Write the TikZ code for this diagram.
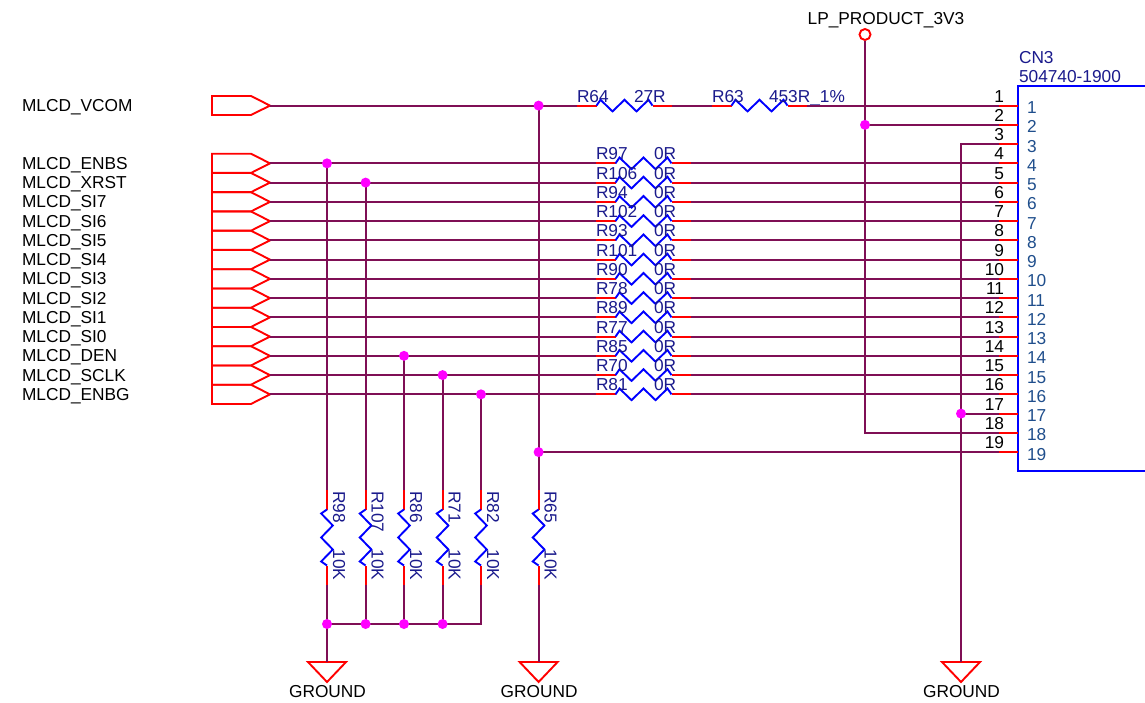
\documentclass[tikz,border=0pt]{standalone}
\usepackage{fontspec}
\setmainfont{Liberation Sans}
\definecolor{wirec}{HTML}{7F0F55}
\definecolor{refc}{HTML}{1A1A8C}
\definecolor{pinc}{HTML}{1F4E8C}
\definecolor{dotc}{HTML}{FF00FF}
\tikzset{
 wire/.style={draw=wirec,line width=2pt,line join=miter},
 stub/.style={draw=red,line width=2pt},
 zig/.style={draw=blue,line width=1.9pt,line join=miter},
 port/.style={draw=red,line width=1.9pt,line join=miter},
 jdot/.style={circle,fill=dotc,minimum size=10pt,inner sep=0pt,outer sep=0pt},
 txt/.style={font=\fontsize{17.3}{19}\selectfont,inner sep=0pt,outer sep=0pt},
 reft/.style={txt,text=refc},
}
% horizontal resistor: name, left x, y, ref, value, value x
\newcommand{\hres}[6]{%
 \coordinate (#1-a) at (#2,#3);
 \coordinate (#1-b) at (#2+95,#3);
 \draw[stub] (#1-a) -- ++(19.5,0);
 \draw[stub] (#1-b) -- ++(-19.5,0);
 \draw[zig] ($(#1-a)+(19.5,0)$) -- ++(4,-5.8) -- ++(12,11.6) -- ++(12,-11.6) -- ++(12,11.6) -- ++(12,-11.6) -- ($(#1-a)+(75.5,0)$);
 \node[reft,anchor=base west] (#1-r) at (#2,#3-3.5) {#4};
 \node[reft,anchor=base west] (#1-v) at (#6,#3-3.5) {#5};
}
% vertical resistor: name, x, ref, value
\newcommand{\vres}[4]{%
 \coordinate (#1-a) at (#2,490);
 \coordinate (#1-b) at (#2,585);
 \draw[stub] (#1-a) -- ++(0,19.5);
 \draw[stub] (#1-b) -- ++(0,-19.5);
 \draw[zig] (#2,509.5) -- ++(-5.8,4) -- ++(11.6,12) -- ++(-11.6,12) -- ++(11.6,12) -- ++(-11.6,12) -- (#2,565.5);
 \node[reft,rotate=-90,anchor=base west] (#1-r) at (#2+6,491) {#3};
 \node[reft,rotate=-90,anchor=base west] (#1-v) at (#2+6,549.5) {#4};
}
\newcommand{\gnd}[3]{% name, x, wire start
 \coordinate (#1) at (#2,662);
 \draw[port] (#2-19,662) -- (#2+19,662) -- (#2,682) -- cycle;
 \node[txt,anchor=base] (#1-t) at (#2+0.5,697) {GROUND};
}
\usetikzlibrary{calc}
\begin{document}
\begin{tikzpicture}[x=1pt,y=-1pt]
\useasboundingbox (0,0) rectangle (1145,703);
% connector body
\draw[blue,line width=2pt] (1145,86) -- (1018,86) -- (1018,471) -- (1145,471);
\node[reft,anchor=base west] (cnref) at (1019,64) {CN3};
\node[reft,anchor=base west] (cnval) at (1019,83) {504740-1900};
% pins
\foreach \n in {1,...,19}{
 \pgfmathsetmacro{\py}{105.6+19.25*(\n-1)}
 \coordinate (pin\n) at (1018,\py);
 \coordinate (st\n) at (999,\py);
 \draw[stub] (st\n) -- (pin\n);
 \node[txt,anchor=base east] (pn\n) at (1004,\py-3.5) {\n};
 \node[txt,anchor=base west,text=pinc] (pm\n) at (1027,\py+8) {\n};
}
% VCOM port and row 1
\draw[port] (212,96) -- (251,96) -- (270,105.6) -- (251,115) -- (212,115) -- cycle;
\coordinate (tipv) at (270,105.6);
\node[txt,anchor=base west] (lv) at (22,111.5) {MLCD\_VCOM};
\hres{r64}{577}{105.6}{R64}{27R}{634}
\hres{r63}{712}{105.6}{R63}{453R\_1\%}{769}
\draw[wire] (tipv) -- (r64-a);
\draw[wire] (r64-b) -- (r63-a);
\draw[wire] (r63-b) -- (st1);
% signal rows
\foreach \n/\r/\s in {4/R97/ENBS,5/R106/XRST,6/R94/SI7,7/R102/SI6,8/R93/SI5,9/R101/SI4,10/R90/SI3,11/R78/SI2,12/R89/SI1,13/R77/SI0,14/R85/DEN,15/R70/SCLK,16/R81/ENBG}{
 \pgfmathsetmacro{\py}{105.6+19.25*(\n-1)}
 \coordinate (tip\n) at (270,\py);
 \draw[port] (212,\py-9.6) -- (251,\py-9.6) -- (tip\n) -- (251,\py+9.6) -- (212,\py+9.6) -- cycle;
 \node[txt,anchor=base west] (sig\n) at (22,\py+6) {MLCD\_\s};
 \hres{rr\n}{596}{\py}{\r}{0R}{654}
 \draw[wire] (tip\n) -- (rr\n-a);
 \draw[wire] (rr\n-b) -- (st\n);
}
% pull-down resistors
\vres{r98}{327}{R98}{10K}
\vres{r107}{365.6}{R107}{10K}
\vres{r86}{404}{R86}{10K}
\vres{r71}{442.6}{R71}{10K}
\vres{r82}{481}{R82}{10K}
\vres{r65}{538.6}{R65}{10K}
\gnd{g1}{327}{}
\gnd{g2}{538.6}{}
\gnd{g3}{961}{}
% junctions
\coordinate (j1) at (327,163.35);
\coordinate (j2) at (365.6,182.6);
\coordinate (j3) at (404,355.85);
\coordinate (j4) at (442.6,375.1);
\coordinate (j5) at (481,394.35);
\coordinate (j6) at (538.6,105.6);
\coordinate (j7) at (538.6,452.1);
\coordinate (j8) at (865,124.85);
\coordinate (j9) at (961,413.6);
\coordinate (b1) at (327,624);
\coordinate (b2) at (365.6,624);
\coordinate (b3) at (404,624);
\coordinate (b4) at (442.6,624);
\coordinate (b5) at (481,624);
% vertical wires
\draw[wire] (j1) -- (r98-a);
\draw[wire] (j2) -- (r107-a);
\draw[wire] (j3) -- (r86-a);
\draw[wire] (j4) -- (r71-a);
\draw[wire] (j5) -- (r82-a);
\draw[wire] (j6) -- (r65-a);
\draw[wire] (r98-b) -- (g1);
\draw[wire] (r107-b) -- (b2);
\draw[wire] (r86-b) -- (b3);
\draw[wire] (r71-b) -- (b4);
\draw[wire] (r82-b) -- (b5) -- (b1);
\draw[wire] (r65-b) -- (g2);
\draw[wire] (j7) -- (st19);
% power
\node[circle,draw=red,line width=1.9pt,minimum size=11pt,inner sep=0pt] (lp) at (865,34.5) {};
\node[txt,anchor=base] (lpt) at (886,25) {LP\_PRODUCT\_3V3};
\draw[wire] (lp) -- (865,432.85) -- (st18);
\draw[wire] (j8) -- (st2);
\draw[wire] (st3) -- (961,144.1) -- (g3);
\draw[wire] (j9) -- (st17);
% junction dots on top of the wires
\foreach \j in {j1,j2,j3,j4,j5,j6,j7,j8,j9,b1,b2,b3,b4}{\node[jdot] (dot\j) at (\j) {};}
\end{tikzpicture}
\end{document}
